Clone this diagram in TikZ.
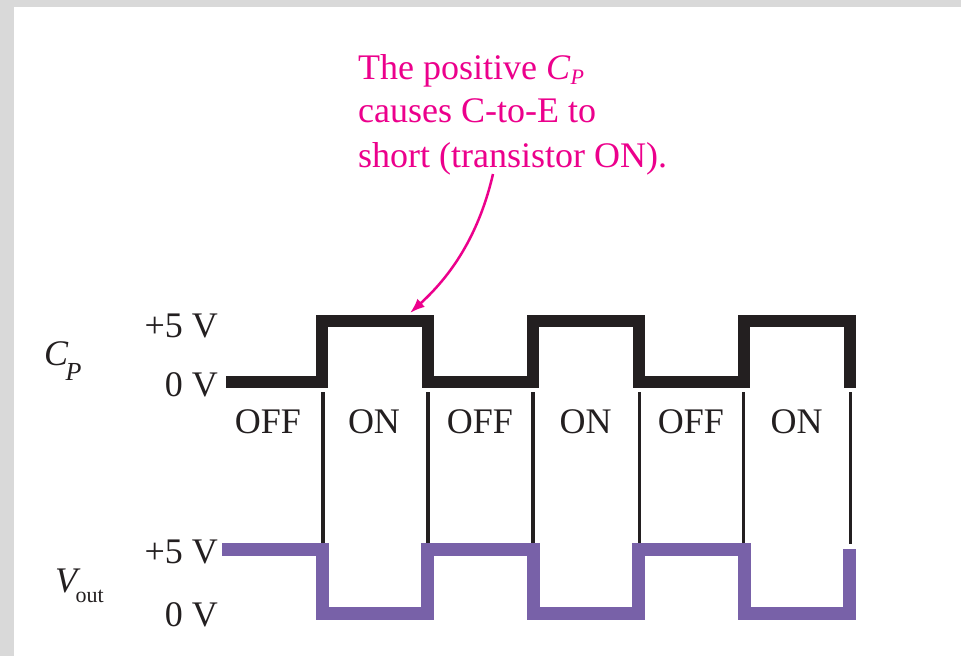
\documentclass[tikz,border=0pt]{standalone}
\usepackage{fontspec}
\setmainfont{Liberation Serif}
\usetikzlibrary{arrows.meta}
\definecolor{inkblack}{HTML}{231F20}
\definecolor{wavepurple}{HTML}{7861A8}
\definecolor{notepink}{HTML}{EC008C}
\definecolor{framegray}{HTML}{D9D9D9}
\newcommand\mysub[3]{\raisebox{-#2pt}{\fontsize{#1}{#1}\selectfont #3}}
\begin{document}
\begin{tikzpicture}[x=1pt,y=-1pt,
  cpwave/.style={draw=inkblack,line width=12pt,line join=miter,line cap=butt},
  vwave/.style={draw=wavepurple,line width=13pt,line join=miter,line cap=butt},
  sepline/.style={draw=inkblack,line width=3.5pt},
  lbl/.style={font=\fontsize{36}{40}\selectfont,inner sep=0pt,text=inkblack},
  note/.style={font=\fontsize{36}{40}\selectfont,inner sep=0pt,text=notepink,anchor=base west},
  pointer/.style={draw=notepink,line width=2.5pt,-{Latex[length=15pt,width=11pt]}}]
\useasboundingbox (0,0) rectangle (961,656);
\fill[white] (0,0) rectangle (961,656);
\fill[framegray] (0,0) rectangle (961,7);
\fill[framegray] (0,0) rectangle (14,656);

% separators
\foreach \xx/\nm in {323/s0,428/s1,533/s2,639.5/s3,743.5/s4,850.5/s5}{
  \coordinate (\nm top) at (\xx,392);
  \coordinate (\nm bot) at (\xx,544);
  \draw[sepline] (\nm top) -- (\nm bot);
}

% C_P waveform
\draw[cpwave] (226,382) -- (322,382) -- (322,320.5) -- (427.5,320.5) -- (427.5,382)
  -- (533,382) -- (533,320.5) -- (638.5,320.5) -- (638.5,382)
  -- (744,382) -- (744,320.5) -- (849.5,320.5) -- (849.5,388);

% V_out waveform
\draw[vwave] (222,549.5) -- (322,549.5) -- (322,613) -- (427.5,613) -- (427.5,549.5)
  -- (533,549.5) -- (533,613) -- (638.5,613) -- (638.5,549.5)
  -- (744,549.5) -- (744,613) -- (849.5,613) -- (849.5,549);

% level labels
\node[lbl,anchor=base east] (cphi) at (218,337) {+5 V};
\node[lbl,anchor=base east] (cplo) at (218,396) {0 V};
\node[lbl,anchor=base east] (vhi) at (218,563) {+5 V};
\node[lbl,anchor=base east] (vlo) at (218,626) {0 V};

% signal names
\node[lbl,anchor=base west] (cpname) at (44,365) {\textit{C}\kern-3pt\mysub{26}{15}{\textit{P}}};
\node[lbl,anchor=base west] (vname) at (55,592) {\textit{V}\kern-5pt\mysub{22}{10}{out}};

% state labels
\node[lbl,anchor=base] (st0) at (268,433) {OFF};
\node[lbl,anchor=base] (st1) at (374,433) {ON};
\node[lbl,anchor=base] (st2) at (480,433) {OFF};
\node[lbl,anchor=base] (st3) at (585.5,433) {ON};
\node[lbl,anchor=base] (st4) at (691,433) {OFF};
\node[lbl,anchor=base] (st5) at (796.5,433) {ON};

% note
\node[note] (note1) at (358,79) {The positive \textit{C}\mysub{22}{5}{\textit{P}}};
\node[note] (note2) at (358,122) {causes C-to-E to};
\node[note] (note3) at (358,167) {short (transistor ON).};
\coordinate (arrowstart) at (493,174);
\coordinate (arrowtip) at (410,313);
\draw[pointer] (arrowstart) .. controls (480,230) and (455,272) .. (arrowtip);
\end{tikzpicture}
\end{document}
